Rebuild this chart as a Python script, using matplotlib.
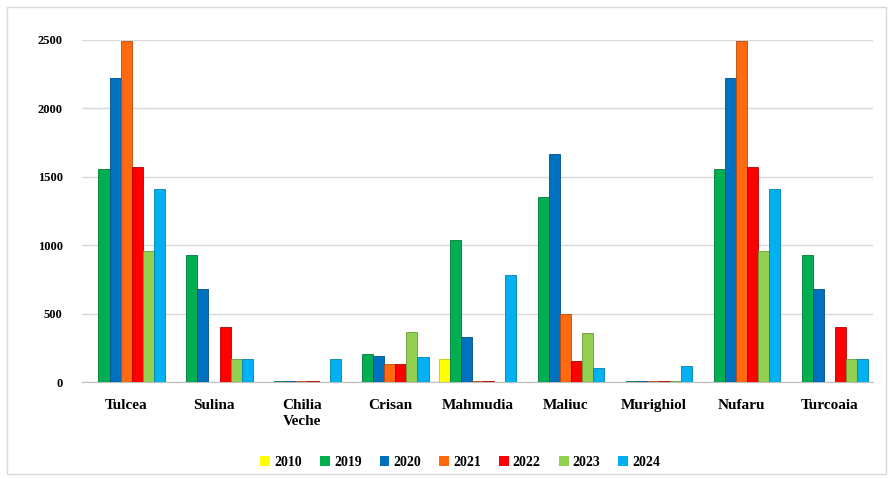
import matplotlib.pyplot as plt
import matplotlib.patches as mpatches
import numpy as np

categories = ['Tulcea', 'Sulina', 'Chilia\nVeche', 'Crisan', 'Mahmudia', 'Maliuc', 'Murighiol', 'Nufaru', 'Turcoaia']
years = ['2010', '2019', '2020', '2021', '2022', '2023', '2024']

v2010 = [0, 0, 0, 0, 170, 0, 0, 0, 0]
v2019 = [1560, 930, 5, 205, 1040, 1350, 5, 1560, 930]
v2020 = [2220, 680, 5, 190, 330, 1670, 5, 2220, 680]
v2021 = [2490, 0, 5, 130, 5, 495, 5, 2490, 0]
v2022 = [1570, 400, 5, 130, 5, 155, 5, 1570, 400]
v2023 = [960, 170, 0, 365, 0, 355, 10, 960, 170]
v2024 = [1410, 165, 170, 180, 780, 105, 115, 1410, 165]

series = [v2010, v2019, v2020, v2021, v2022, v2023, v2024]
colors = ['#FFFF00', '#00B050', '#0070C0', '#FF6A10', '#FF0000', '#92D050', '#00B0F0']
edges = ['#C8C800', '#007A38', '#004F88', '#B84A08', '#B00000', '#689A38', '#0080B0']

plt.rcParams['font.family'] = ['Liberation Serif', 'DejaVu Serif']
plt.rcParams['font.weight'] = 'bold'

fig = plt.figure(figsize=(8.93, 4.79), dpi=100)
ax = fig.add_axes([0.092, 0.2025, 0.886, 0.714])

x = np.arange(len(categories))
n = len(series)
w = 0.88 / n
for i, (vals, c, e) in enumerate(zip(series, colors, edges)):
    ax.bar(x - 0.44 + w * (i + 0.5), vals, width=w, color=c, edgecolor=e, linewidth=0.6,
           label=years[i], zorder=3)

ax.set_xlim(-0.5, len(categories) - 0.5)
ax.set_ylim(0, 2500)
ax.set_yticks([0, 500, 1000, 1500, 2000, 2500])
ax.set_xticks(x)
ax.set_xticklabels(categories, fontsize=11, fontweight='bold', va='top', linespacing=1.3)
ax.tick_params(axis='y', length=0, labelsize=9, pad=14)
ax.tick_params(axis='x', length=0, pad=12)
ax.grid(axis='y', color='#D9D9D9', linewidth=1, zorder=0)
for s in ['top', 'right', 'left']:
    ax.spines[s].set_visible(False)
ax.spines['bottom'].set_color('#BFBFBF')

# legend handles without outlines
handles = [mpatches.Patch(facecolor=c, edgecolor='none', label=y) for c, y in zip(colors, years)]
ax.legend(handles=handles, loc='center', bbox_to_anchor=(0.478, -0.234), ncol=7, frameon=False,
          prop={'size': 10, 'weight': 'bold'}, handlelength=0.7, handleheight=0.7,
          handletextpad=0.3, columnspacing=1.3)

fig.patches.append(mpatches.Rectangle((0.008, 0.01), 0.984, 0.975, transform=fig.transFigure,
                                      fill=False, edgecolor='#D9D9D9', linewidth=1))

plt.savefig('out.png', dpi=100)
